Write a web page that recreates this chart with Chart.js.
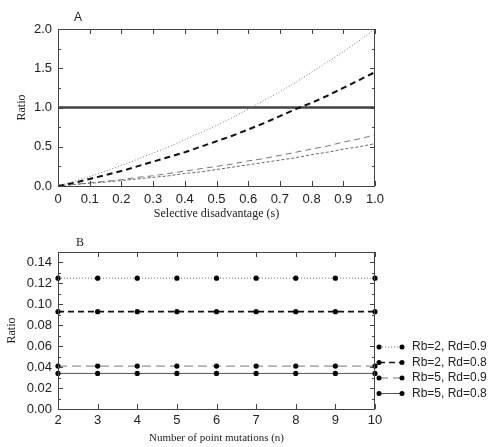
<!DOCTYPE html>
<html>
<head>
<meta charset="utf-8">
<script src="https://cdn.jsdelivr.net/npm/chart.js@4.4.1/dist/chart.umd.min.js"></script>
<style>
  html, body { margin: 0; padding: 0; background: #fff; }
  #wrap { position: relative; width: 493px; height: 447px; }
  canvas { display: block; position: absolute; left: 0; }
  #chartA { top: 0; }
  #chartB { top: 230px; }
</style>
</head>
<body>
<div id="wrap">
  <canvas id="chartA" width="493" height="230"></canvas>
  <canvas id="chartB" width="493" height="217"></canvas>
</div>
<script>
// ---- panel A: ratio vs selective disadvantage ----
const sValues     = [0, 0.05, 0.1, 0.15, 0.2, 0.25, 0.3, 0.35, 0.4, 0.45, 0.5, 0.55, 0.6, 0.65, 0.7, 0.75, 0.8, 0.85, 0.9, 0.95, 1.0];
const aRb2Rd09    = [0, 0.06, 0.12, 0.19, 0.26, 0.34, 0.42, 0.50, 0.59, 0.68, 0.77, 0.87, 0.98, 1.09, 1.20, 1.32, 1.45, 1.58, 1.71, 1.85, 2.0];
const aRb2Rd08    = [0, 0.04, 0.09, 0.14, 0.19, 0.25, 0.31, 0.37, 0.43, 0.50, 0.57, 0.64, 0.72, 0.80, 0.89, 0.98, 1.06, 1.15, 1.25, 1.35, 1.45];
const aRb5Rd09    = [0, 0.02, 0.04, 0.06, 0.08, 0.11, 0.13, 0.16, 0.19, 0.22, 0.25, 0.28, 0.32, 0.35, 0.39, 0.43, 0.47, 0.51, 0.56, 0.60, 0.65];
const aRb5Rd08    = [0, 0.02, 0.035, 0.05, 0.07, 0.09, 0.11, 0.13, 0.16, 0.18, 0.21, 0.24, 0.27, 0.30, 0.33, 0.36, 0.40, 0.43, 0.47, 0.50, 0.54];
const refS        = [0, 1];
const refLevel    = [1, 1];
const xTicksA     = [0, 0.1, 0.2, 0.3, 0.4, 0.5, 0.6, 0.7, 0.8, 0.9, 1.0];
const yTicksA     = [0, 0.5, 1.0, 1.5, 2.0];
const yMinorA     = [0.25, 0.75, 1.25, 1.75];

// ---- panel B: ratio vs number of point mutations ----
const nValues     = [2, 3, 4, 5, 6, 7, 8, 9, 10];
const bRb2Rd09    = [0.125, 0.125, 0.125, 0.125, 0.125, 0.125, 0.125, 0.125, 0.125];
const bRb2Rd08    = [0.093, 0.093, 0.093, 0.093, 0.093, 0.093, 0.093, 0.093, 0.093];
const bRb5Rd09    = [0.041, 0.041, 0.041, 0.041, 0.041, 0.041, 0.041, 0.041, 0.041];
const bRb5Rd08    = [0.034, 0.034, 0.034, 0.034, 0.034, 0.034, 0.034, 0.034, 0.034];
const xTicksB     = [2, 3, 4, 5, 6, 7, 8, 9, 10];
const yTicksB     = [0, 0.02, 0.04, 0.06, 0.08, 0.10, 0.12, 0.14];
const yMinorB     = [0.01, 0.03, 0.05, 0.07, 0.09, 0.11, 0.13];
const legendLabels = ['Rb=2, Rd=0.9', 'Rb=2, Rd=0.8', 'Rb=5, Rd=0.9', 'Rb=5, Rd=0.8'];

const sansFont = 'Liberation Sans, Arial, sans-serif';
const serifFont = 'Liberation Serif, Times New Roman, serif';

function pts(xs, ys) { return xs.map((x, i) => ({ x: x, y: ys[i] })); }

// box, inward ticks and the panel letter
const framePlugin = {
    id: 'frame',
    afterDraw(chart, args, o) {
        const { ctx, chartArea: a, scales } = chart;
        ctx.save();
        ctx.strokeStyle = '#444';
        ctx.lineWidth = 1;
        ctx.strokeRect(a.left + 0.5, a.top + 0.5, a.right - a.left - 1, a.bottom - a.top);
        ctx.beginPath();
        o.xMajor.forEach(v => {
            const px = Math.round(scales.x.getPixelForValue(v)) + 0.5;
            ctx.moveTo(px, a.bottom); ctx.lineTo(px, a.bottom - 5);
            ctx.moveTo(px, a.top); ctx.lineTo(px, a.top + 5);
        });
        o.yMajor.forEach(v => {
            const py = Math.round(scales.y.getPixelForValue(v)) + 0.5;
            ctx.moveTo(a.left, py); ctx.lineTo(a.left + 5, py);
            ctx.moveTo(a.right, py); ctx.lineTo(a.right - 5, py);
        });
        o.yMinor.forEach(v => {
            const py = Math.round(scales.y.getPixelForValue(v)) + 0.5;
            ctx.moveTo(a.left, py); ctx.lineTo(a.left + 3, py);
            ctx.moveTo(a.right, py); ctx.lineTo(a.right - 3, py);
        });
        ctx.stroke();
        ctx.fillStyle = '#222';
        ctx.font = o.letterFont;
        ctx.textAlign = 'center';
        ctx.textBaseline = 'middle';
        ctx.fillText(o.letter, o.lx, o.ly);
        ctx.restore();
    }
};

// legend with a dot at each end of the line sample
const dotLegendPlugin = {
    id: 'dotLegend',
    afterDraw(chart, args, o) {
        if (!o.show) return;
        const ctx = chart.ctx;
        ctx.save();
        chart.data.datasets.forEach((ds, i) => {
            const y = o.top + i * o.gap;
            ctx.strokeStyle = ds.borderColor;
            ctx.lineWidth = ds.borderWidth;
            ctx.setLineDash(ds.borderDash || []);
            ctx.beginPath();
            ctx.moveTo(o.x0, y); ctx.lineTo(o.x1, y);
            ctx.stroke();
            ctx.setLineDash([]);
            ctx.fillStyle = '#000';
            [o.x0, o.x1].forEach(px => { ctx.beginPath(); ctx.arc(px, y, 2.5, 0, Math.PI * 2); ctx.fill(); });
            ctx.fillStyle = '#222';
            ctx.font = '12px ' + sansFont;
            ctx.textAlign = 'left';
            ctx.textBaseline = 'middle';
            ctx.fillText(ds.label, o.textX, y);
        });
        ctx.restore();
    }
};

Chart.register(framePlugin, dotLegendPlugin);

new Chart(document.getElementById('chartA'), {
    type: 'line',
    data: {
        datasets: [
            { label: 'Rb=2, Rd=0.9', data: pts(sValues, aRb2Rd09), borderColor: '#777', borderWidth: 1, borderDash: [1, 2] },
            { label: 'Rb=2, Rd=0.8', data: pts(sValues, aRb2Rd08), borderColor: '#111', borderWidth: 2, borderDash: [6, 4] },
            { label: 'Rb=5, Rd=0.9', data: pts(sValues, aRb5Rd09), borderColor: '#777', borderWidth: 1, borderDash: [6, 4] },
            { label: 'Rb=5, Rd=0.8', data: pts(sValues, aRb5Rd08), borderColor: '#666', borderWidth: 1, borderDash: [3, 2] },
            { label: 'ratio = 1', data: pts(refS, refLevel), borderColor: '#444', borderWidth: 2.5 }
        ]
    },
    options: {
        responsive: false,
        animation: false,
        layout: { padding: { top: 29, right: 118, left: 0, bottom: 0 } },
        elements: { point: { radius: 0 }, line: { tension: 0 } },
        plugins: {
            legend: { display: false },
            tooltip: { enabled: false },
            frame: { xMajor: xTicksA, yMajor: yTicksA, yMinor: yMinorA, letter: 'A', letterFont: '12px ' + sansFont, lx: 78, ly: 18 },
            dotLegend: { show: false }
        },
        scales: {
            x: {
                type: 'linear', min: 0, max: 1,
                afterBuildTicks: s => { s.ticks = xTicksA.map(v => ({ value: v })); },
                afterFit: s => { s.height = 44; },
                grid: { display: false, drawTicks: false },
                border: { display: false },
                ticks: { padding: 6, color: '#222', font: { family: sansFont, size: 13 }, callback: v => v === 0 ? '0' : v.toFixed(1), maxRotation: 0 },
                title: { display: true, text: 'Selective disadvantage (s)', color: '#222', font: { family: serifFont, size: 12 }, padding: { top: 0, bottom: 9 } }
            },
            y: {
                min: 0, max: 2,
                afterBuildTicks: s => { s.ticks = yTicksA.map(v => ({ value: v })); },
                afterFit: s => { s.width = 58; },
                grid: { display: false, drawTicks: false },
                border: { display: false },
                ticks: { padding: 6, color: '#222', font: { family: sansFont, size: 13 }, callback: v => v.toFixed(1) },
                title: { display: true, text: 'Ratio', color: '#222', font: { family: serifFont, size: 12 }, padding: { top: 15, bottom: 0 } }
            }
        }
    }
});

const bPoint = { pointRadius: 2.6, pointBorderWidth: 0, pointBackgroundColor: '#000', pointBorderColor: '#000', clip: false };

new Chart(document.getElementById('chartB'), {
    type: 'line',
    data: {
        datasets: [
            Object.assign({ label: legendLabels[0], data: pts(nValues, bRb2Rd09), borderColor: '#777', borderWidth: 1, borderDash: [1, 2] }, bPoint),
            Object.assign({ label: legendLabels[1], data: pts(nValues, bRb2Rd08), borderColor: '#111', borderWidth: 1.6, borderDash: [6, 4] }, bPoint),
            Object.assign({ label: legendLabels[2], data: pts(nValues, bRb5Rd09), borderColor: '#777', borderWidth: 1, borderDash: [9, 5] }, bPoint),
            Object.assign({ label: legendLabels[3], data: pts(nValues, bRb5Rd08), borderColor: '#555', borderWidth: 1 }, bPoint)
        ]
    },
    options: {
        responsive: false,
        animation: false,
        layout: { padding: { top: 22, right: 118, left: 0, bottom: 0 } },
        elements: { line: { tension: 0 } },
        plugins: {
            legend: { display: false },
            tooltip: { enabled: false },
            frame: { xMajor: xTicksB, yMajor: yTicksB, yMinor: yMinorB, letter: 'B', letterFont: '12px ' + serifFont, lx: 80, ly: 13 },
            dotLegend: { show: true, x0: 379, x1: 402, textX: 412, top: 117, gap: 15.5 }
        },
        scales: {
            x: {
                type: 'linear', min: 2, max: 10,
                afterBuildTicks: s => { s.ticks = xTicksB.map(v => ({ value: v })); },
                afterFit: s => { s.height = 38; },
                grid: { display: false, drawTicks: false },
                border: { display: false },
                ticks: { padding: 4, color: '#222', font: { family: sansFont, size: 13 }, maxRotation: 0 },
                title: { display: true, text: 'Number of point mutations (n)', color: '#222', font: { family: serifFont, size: 11 }, padding: { top: 0, bottom: 2 } }
            },
            y: {
                min: 0, max: 0.15,
                afterBuildTicks: s => { s.ticks = yTicksB.map(v => ({ value: v })); },
                afterFit: s => { s.width = 58; },
                grid: { display: false, drawTicks: false },
                border: { display: false },
                ticks: { padding: 6, color: '#222', font: { family: sansFont, size: 13 }, callback: v => v.toFixed(2) },
                title: { display: true, text: 'Ratio', color: '#222', font: { family: serifFont, size: 12 }, padding: { top: 5, bottom: 0 } }
            }
        }
    }
});
</script>
</body>
</html>
